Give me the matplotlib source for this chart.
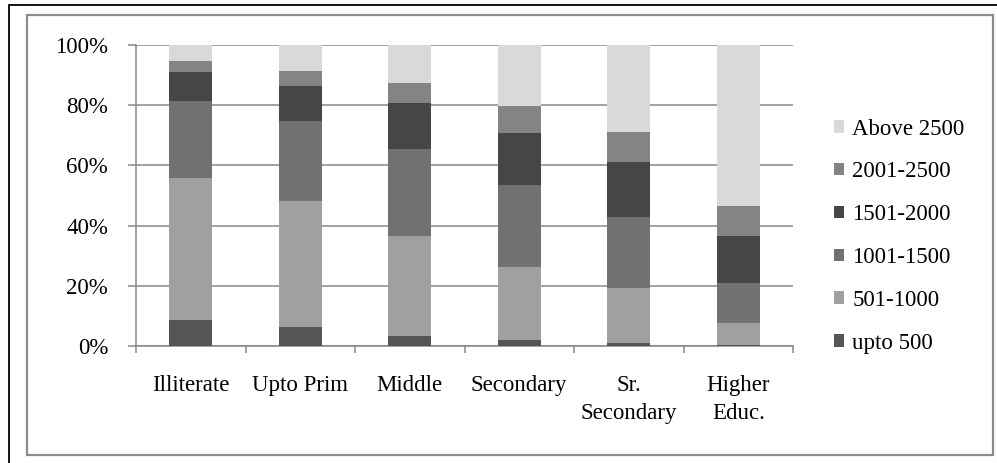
import matplotlib
matplotlib.use("Agg")
import matplotlib.pyplot as plt
from matplotlib.patches import Rectangle
import numpy as np

plt.rcParams['font.family'] = ['Liberation Serif', 'DejaVu Serif']

categories = ["Illiterate", "Upto Prim", "Middle", "Secondary", "Sr.\nSecondary", "Higher\nEduc."]
upto_500 = [8.6, 6.4, 3.3, 2.0, 0.9, 0.2]
r501_1000 = [47.2, 41.7, 33.2, 24.2, 18.4, 7.4]
r1001_1500 = [25.7, 26.7, 28.9, 27.3, 23.5, 13.2]
r1501_2000 = [9.6, 11.7, 15.4, 17.4, 18.3, 15.8]
r2001_2500 = [3.6, 4.9, 6.5, 8.7, 10.0, 9.8]
above_2500 = [5.3, 8.6, 12.7, 20.4, 28.9, 53.6]

series = [
    ("upto 500", upto_500, "#555555"),
    ("501-1000", r501_1000, "#a0a0a0"),
    ("1001-1500", r1001_1500, "#717171"),
    ("1501-2000", r1501_2000, "#464646"),
    ("2001-2500", r2001_2500, "#848484"),
    ("Above 2500", above_2500, "#d9d9d9"),
]

fig = plt.figure(figsize=(9.97, 4.63), dpi=100)
ax = fig.add_axes([136/997, 1-346/463, (793-136)/997, (346-45)/463])

x = np.arange(len(categories))
bottom = np.zeros(len(categories))
handles = []
for name, vals, col in series:
    b = ax.bar(x, vals, 0.39, bottom=bottom, color=col, label=name, zorder=3)
    handles.append(b)
    bottom += np.array(vals)

ax.set_xlim(-0.5, 5.5)
ax.set_ylim(0, 100)
ax.set_yticks(np.arange(0, 101, 20))
ax.set_yticklabels([f"{v}%" for v in range(0, 101, 20)])
ax.yaxis.grid(True, color="#878787", linewidth=1.1, zorder=0)
ax.set_xticks(x)
ax.set_xticklabels(categories, fontsize=16.5, va="top", linespacing=1.45)
ax.set_xticks(np.arange(-0.5, 6, 1), minor=True)
ax.tick_params(axis="x", which="major", length=0, pad=21)
ax.tick_params(axis="x", which="minor", length=5, color="#878787", width=1.1)
ax.tick_params(axis="y", length=6, color="#878787", width=1.1, pad=14, labelsize=16.5)
for s in ["top", "right"]:
    ax.spines[s].set_visible(False)
for s in ["left", "bottom"]:
    ax.spines[s].set_color("#878787")
    ax.spines[s].set_linewidth(1.1)

leg = fig.legend(handles[::-1], [s[0] for s in series][::-1],
                 loc="center left", bbox_to_anchor=(834/997, 0.49),
                 frameon=False, fontsize=16.5, handlelength=0.45, handleheight=0.45,
                 handletextpad=0.35, labelspacing=0.95, borderpad=0, borderaxespad=0)

# outer frames
fig.patches.append(Rectangle((9/997, -0.1), 1.1, 1-5/463 + 0.1, transform=fig.transFigure,
                             fill=False, edgecolor="black", linewidth=1.3))
fig.patches.append(Rectangle((27/997, 1-455/463), (993-27)/997, (455-15)/463,
                             transform=fig.transFigure, fill=False, edgecolor="#8c8c8c",
                             linewidth=1.6))

plt.savefig("out.png", dpi=100)
